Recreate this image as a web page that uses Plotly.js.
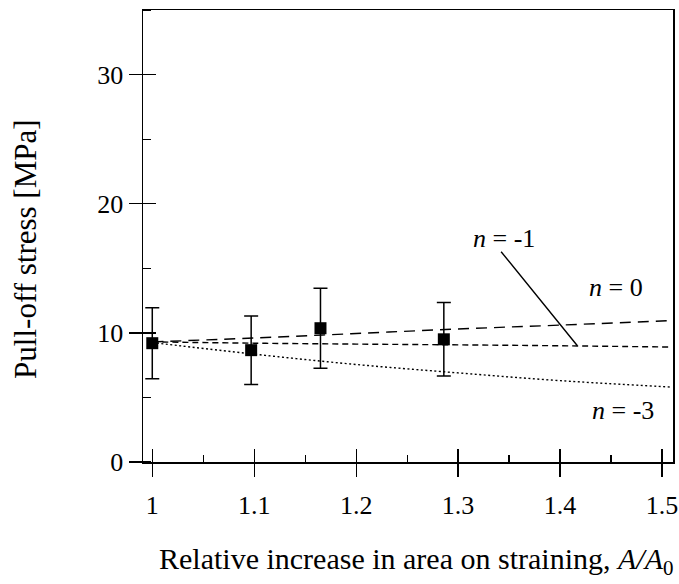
<!DOCTYPE html>
<html>
<head>
<meta charset="utf-8">
<script src="https://cdn.plot.ly/plotly-3.0.1.min.js"></script>
<style>html,body{margin:0;padding:0;background:#fff;}#chart{width:679px;height:584px;}</style>
</head>
<body>
<div id="chart"></div>
<script>
// Measured data (mean pull-off stress with error bars)
const areaRatio = [1.0, 1.097, 1.165, 1.286];
const pullOff = [9.2, 8.66, 10.36, 9.5];
const pullOffErr = [2.75, 2.65, 3.1, 2.85];

// Model curves
const curveX = [1.0, 1.1, 1.2, 1.3, 1.4, 1.51];
const curveN0 = [9.3, 9.6, 9.95, 10.3, 10.6, 10.95];
const curveNm1 = [9.3, 9.2, 9.13, 9.07, 9.0, 8.9];
const curveNm3 = [9.25, 8.35, 7.55, 6.9, 6.3, 5.8];

const xTicks = [1, 1.1, 1.2, 1.3, 1.4, 1.5];
const xTickText = ['1', '1.1', '1.2', '1.3', '1.4', '1.5'];
const yTicks = [0, 10, 20, 30];
const yTickText = ['0', '10', '20', '30'];

const labelN0 = ['<i>n</i> = 0', 1.455, 13.5];
const labelNm1 = ['<i>n</i> = -1', 1.345, 17.3];
const labelNm3 = ['<i>n</i> = -3', 1.462, 4.0];
const pointerNm1 = {from: [1.341, 16.4], to: [1.417, 9.0]};

const xRange = [0.9909, 1.5108];
const yRange = [0, 35.0];

const serif = 'Liberation Serif, Times New Roman, serif';
const lineStyle = (dash) => ({color: '#000', width: 1.4, dash: dash});

const traces = [
  {x: curveX, y: curveN0, mode: 'lines', line: Object.assign(lineStyle('11px,7px'), {shape: 'spline'}), hoverinfo: 'skip'},
  {x: curveX, y: curveNm1, mode: 'lines', line: Object.assign(lineStyle('6px,4px'), {shape: 'spline'}), hoverinfo: 'skip'},
  {x: curveX, y: curveNm3, mode: 'lines', line: Object.assign(lineStyle('2px,2.5px'), {shape: 'spline'}), hoverinfo: 'skip'},
  {x: areaRatio, y: pullOff, mode: 'markers', type: 'scatter',
   marker: {symbol: 'square', size: 12, color: '#000'},
   error_y: {type: 'data', array: pullOffErr, visible: true, color: '#000', thickness: 1.5, width: 7}},
  // invisible trace so the overlaid tick axes are drawn
  {x: [xRange[0]], y: [yRange[0]], xaxis: 'x2', yaxis: 'y2', mode: 'markers', marker: {opacity: 0}, hoverinfo: 'skip'}
];

const axisCommon = {showgrid: false, zeroline: false, showline: true, linecolor: '#000', linewidth: 1.5,
  tickcolor: '#000', tickwidth: 1.3, tickfont: {family: serif, size: 26, color: '#000'}};

const layout = {
  width: 679, height: 584,
  margin: {l: 143, r: 6, t: 10, b: 122},
  paper_bgcolor: '#fff', plot_bgcolor: '#fff',
  showlegend: false,
  xaxis: Object.assign({}, axisCommon, {
    range: xRange, tickmode: 'array', tickvals: xTicks, ticktext: xTickText,
    ticks: 'outside', ticklen: 13, mirror: true, ticklabelstandoff: 6,
    minor: {ticks: 'inside', dtick: 0.05, tick0: 1.05, ticklen: 7, tickcolor: '#000', tickwidth: 1.2}
  }),
  yaxis: Object.assign({}, axisCommon, {
    range: yRange, tickmode: 'array', tickvals: yTicks, ticktext: yTickText,
    ticks: 'outside', ticklen: 13, mirror: true,
    minor: {ticks: 'inside', dtick: 5, tick0: 5, ticklen: 8, tickcolor: '#000', tickwidth: 1.2}
  }),
  xaxis2: {overlaying: 'x', anchor: 'y2', range: xRange, showgrid: false, zeroline: false, showline: false,
    tickmode: 'array', tickvals: xTicks, ticks: 'inside', ticklen: 13, tickcolor: '#000', tickwidth: 1.3, showticklabels: false},
  yaxis2: {overlaying: 'y', anchor: 'x2', range: yRange, showgrid: false, zeroline: false, showline: false,
    tickmode: 'array', tickvals: yTicks, ticks: 'inside', ticklen: 13, tickcolor: '#000', tickwidth: 1.3, showticklabels: false},
  annotations: [
    {text: labelN0[0], x: labelN0[1], y: labelN0[2], xref: 'x', yref: 'y', showarrow: false,
     font: {family: serif, size: 26, color: '#000'}, xanchor: 'center'},
    {text: labelNm1[0], x: labelNm1[1], y: labelNm1[2], xref: 'x', yref: 'y', showarrow: false,
     font: {family: serif, size: 26, color: '#000'}, xanchor: 'center'},
    {text: labelNm3[0], x: labelNm3[1], y: labelNm3[2], xref: 'x', yref: 'y', showarrow: false,
     font: {family: serif, size: 26, color: '#000'}, xanchor: 'center'},
    {text: '', x: pointerNm1.to[0], y: pointerNm1.to[1], xref: 'x', yref: 'y',
     ax: pointerNm1.from[0], ay: pointerNm1.from[1], axref: 'x', ayref: 'y',
     showarrow: true, arrowhead: 0, arrowwidth: 1.4, arrowcolor: '#000', standoff: 0, startstandoff: 0},
    {text: 'Relative increase in area on straining, <i>A/A</i><sub>0</sub>', xref: 'paper', yref: 'paper',
     x: 0.515, y: -0.22, xanchor: 'center', yanchor: 'middle', showarrow: false,
     font: {family: serif, size: 30, color: '#000'}},
    {text: 'Pull-off stress [MPa]', xref: 'paper', yref: 'paper', textangle: -90,
     x: -0.222, y: 0.47, xanchor: 'center', yanchor: 'middle', showarrow: false,
     font: {family: serif, size: 31, color: '#000'}}
  ]
};

Plotly.newPlot('chart', traces, layout, {staticPlot: true, displayModeBar: false});
</script>
</body>
</html>
